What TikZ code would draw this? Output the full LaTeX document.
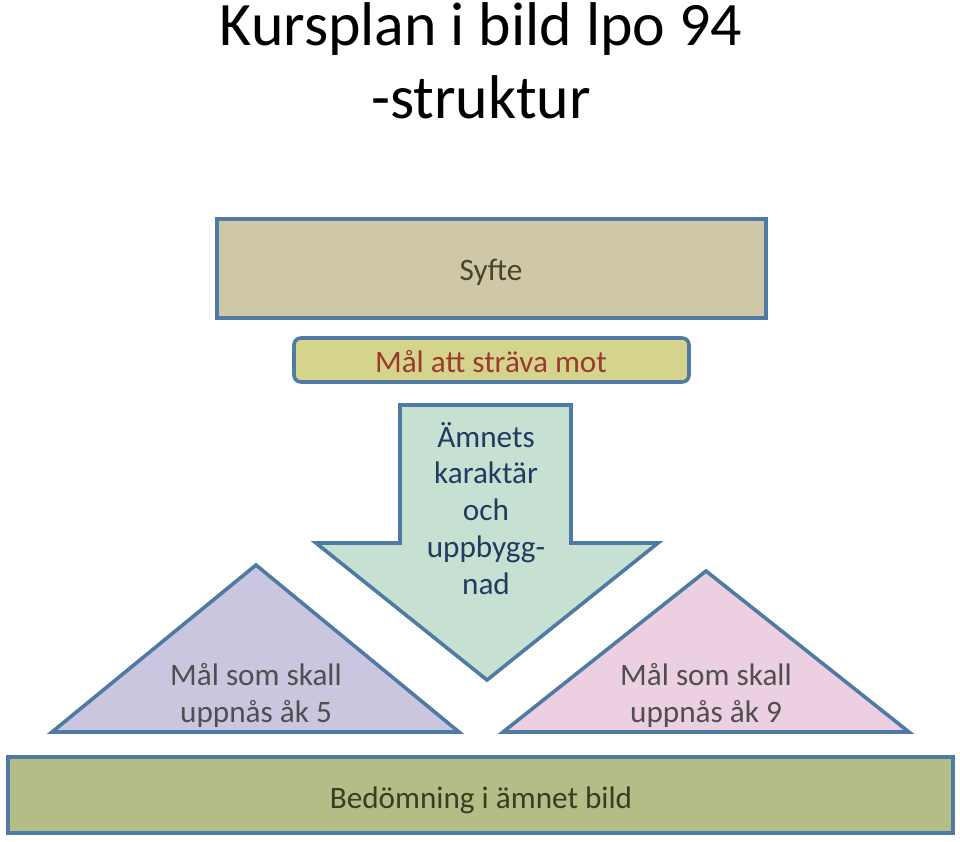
\documentclass[tikz,border=0pt]{standalone}
\usepackage{fontspec}
\setmainfont{Carlito}
\usetikzlibrary{positioning}
\definecolor{Edge}{HTML}{4F7AA3}
\definecolor{SyfteFill}{HTML}{CEC8A6}
\definecolor{SyfteText}{HTML}{4A4530}
\definecolor{MalFill}{HTML}{D5D48D}
\definecolor{MalText}{HTML}{9C3A2E}
\definecolor{ArrowFill}{HTML}{C6E1D2}
\definecolor{ArrowText}{HTML}{1F3D63}
\definecolor{LeftFill}{HTML}{CAC6E0}
\definecolor{RightFill}{HTML}{ECCFE0}
\definecolor{TriText}{HTML}{4F4F4F}
\definecolor{BottomFill}{HTML}{B3BD87}
\definecolor{BottomText}{HTML}{3D3C22}
\begin{document}
\begin{tikzpicture}[x=1pt,y=-1pt,
  block/.style={draw=Edge,line width=3.6pt},
  label/.style={font=\fontsize{31.2}{36.7}\selectfont,align=center,anchor=base}]
\useasboundingbox (0,0) rectangle (960,841);
% title
\node[font=\fontsize{61.8}{73}\selectfont,anchor=base] (title1) at (481,45) {Kursplan i bild lpo 94};
\node[font=\fontsize{61.8}{73}\selectfont,anchor=base] (title2) at (481,118) {-struktur};
% top boxes
\draw[block,fill=SyfteFill] (217,219) rectangle (766,318);
\node[label,text=SyfteText] (syfte) at (491,280) {Syfte};
\draw[block,fill=MalFill,rounded corners=7pt] (294,338) rectangle (689,382);
\node[label,text=MalText] (strava) at (491,372) {Mål att sträva mot};
% arrow
\draw[block,fill=ArrowFill] (400,405) -- (571,405) -- (571,543) -- (658,543) -- (487,680)
  -- (316,543) -- (400,543) -- cycle;
\node[label,text=ArrowText] (amnet) at (486,594) {Ämnets\\karaktär\\och\\uppbygg-\\nad};
% triangles
\draw[block,fill=LeftFill] (256,565) -- (459,732) -- (52,732) -- cycle;
\node[label,text=TriText] (ak5) at (256,722) {Mål som skall\\uppnås åk 5};
\draw[block,fill=RightFill] (706,571) -- (909,732) -- (503,732) -- cycle;
\node[label,text=TriText] (ak9) at (706,722) {Mål som skall\\uppnås åk 9};
% bottom
\draw[block,fill=BottomFill] (8,757) rectangle (953,833);
\node[label,text=BottomText] (bedomning) at (481,808) {Bedömning i ämnet bild};
\end{tikzpicture}
\end{document}
